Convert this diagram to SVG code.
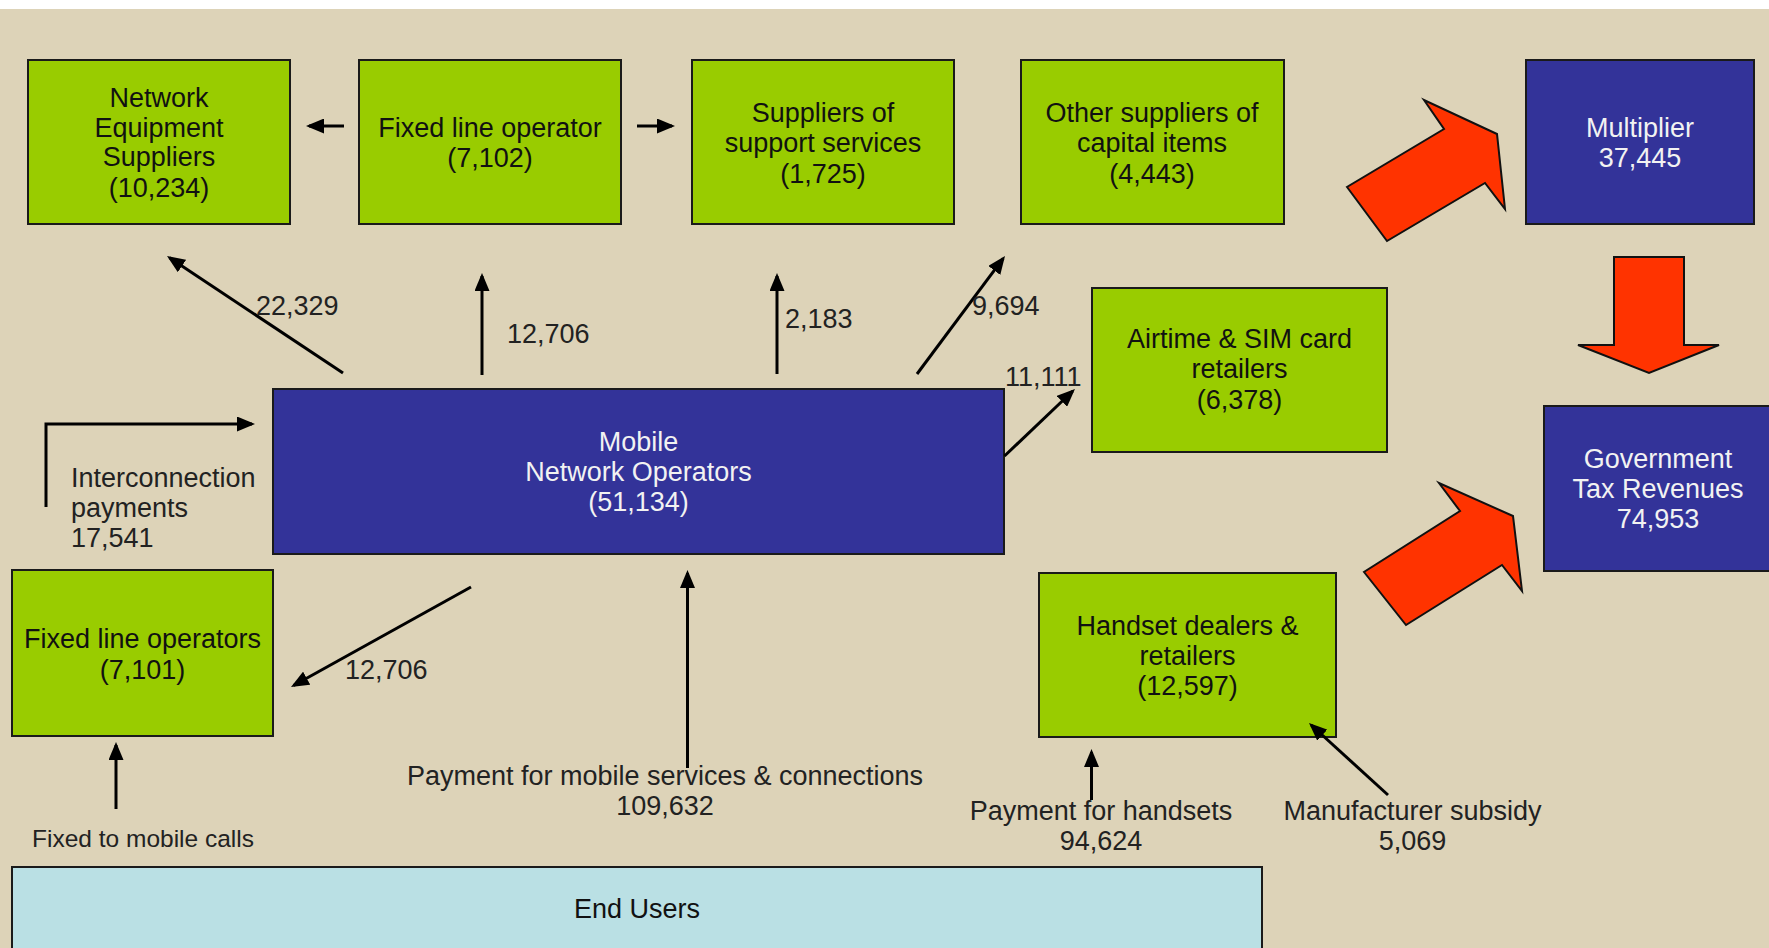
<svg xmlns="http://www.w3.org/2000/svg" width="1769" height="948" viewBox="0 0 1769 948">
<defs>
<style>
.bg{fill:#DDD3B8}
.g{fill:#99CC00;stroke:#1a1a1a;stroke-width:2}
.b{fill:#333399;stroke:#1a1a1a;stroke-width:2}
.u{fill:#BAE0E4;stroke:#1a1a1a;stroke-width:2}
.r{fill:#FF3300;stroke:#111;stroke-width:2;stroke-linejoin:miter}
text{font-family:"Liberation Sans",Arial,sans-serif;font-size:27px}
.t{fill:#111;text-anchor:middle}
.w{fill:#F2F2F2;text-anchor:middle}
.l{fill:#222}
.m{fill:#222;text-anchor:middle}
.s{font-size:24.5px}
.c{stroke:#000;stroke-width:3;fill:none;marker-end:url(#ah)}
</style>
<marker id="ah" viewBox="0 0 12 10" refX="10" refY="5" markerWidth="6" markerHeight="5" orient="auto" markerUnits="strokeWidth"><path d="M0,0 L12,5 L0,10 z" fill="#000"/></marker>
</defs>
<rect x="0" y="0" width="1769" height="948" fill="#FFFFFF"/>
<rect class="bg" x="0" y="9" width="1769" height="939"/>

<g id="network-equipment-suppliers">
<rect class="g" x="28" y="60" width="262" height="164"/>
<text class="t" x="159" y="107">Network</text>
<text class="t" x="159" y="137">Equipment</text>
<text class="t" x="159" y="166">Suppliers</text>
<text class="t" x="159" y="197">(10,234)</text>
</g>
<g id="fixed-line-operator">
<rect class="g" x="359" y="60" width="262" height="164"/>
<text class="t" x="490" y="137">Fixed line operator</text>
<text class="t" x="490" y="167">(7,102)</text>
</g>
<g id="support-services">
<rect class="g" x="692" y="60" width="262" height="164"/>
<text class="t" x="823" y="122">Suppliers of</text>
<text class="t" x="823" y="152">support services</text>
<text class="t" x="823" y="183">(1,725)</text>
</g>
<g id="capital-items">
<rect class="g" x="1021" y="60" width="263" height="164"/>
<text class="t" x="1152" y="122">Other suppliers of</text>
<text class="t" x="1152" y="152">capital items</text>
<text class="t" x="1152" y="183">(4,443)</text>
</g>
<g id="multiplier">
<rect class="b" x="1526" y="60" width="228" height="164"/>
<text class="w" x="1640" y="137">Multiplier</text>
<text class="w" x="1640" y="167">37,445</text>
</g>
<g id="airtime-retailers">
<rect class="g" x="1092" y="288" width="295" height="164"/>
<text class="t" x="1239.5" y="348">Airtime &amp; SIM card</text>
<text class="t" x="1239.5" y="378">retailers</text>
<text class="t" x="1239.5" y="409">(6,378)</text>
</g>
<g id="mobile-network-operators">
<rect class="b" x="273" y="389" width="731" height="165"/>
<text class="w" x="638.5" y="451">Mobile</text>
<text class="w" x="638.5" y="481">Network Operators</text>
<text class="w" x="638.5" y="511">(51,134)</text>
</g>
<g id="government">
<rect class="b" x="1544" y="406" width="232" height="165"/>
<text class="w" x="1658" y="468">Government</text>
<text class="w" x="1658" y="498">Tax Revenues</text>
<text class="w" x="1658" y="528">74,953</text>
</g>
<g id="fixed-line-operators">
<rect class="g" x="12" y="570" width="261" height="166"/>
<text class="t" x="142.5" y="648">Fixed line operators</text>
<text class="t" x="142.5" y="679">(7,101)</text>
</g>
<g id="handset-dealers">
<rect class="g" x="1039" y="573" width="297" height="164"/>
<text class="t" x="1187.5" y="635">Handset dealers &amp;</text>
<text class="t" x="1187.5" y="665">retailers</text>
<text class="t" x="1187.5" y="695">(12,597)</text>
</g>
<g id="end-users">
<rect class="u" x="12" y="867" width="1250" height="95"/>
<text class="t" x="637" y="918">End Users</text>
</g>

<g id="connectors">
<line class="c" x1="344" y1="126" x2="309" y2="126"/>
<line class="c" x1="637" y1="126" x2="672" y2="126"/>
<line class="c" x1="343" y1="373" x2="169.5" y2="257.7"/>
<line class="c" x1="482" y1="375" x2="482" y2="276"/>
<line class="c" x1="777" y1="374" x2="777" y2="276"/>
<line class="c" x1="917" y1="374" x2="1003.2" y2="258.4"/>
<line class="c" x1="1004.5" y1="456" x2="1072.8" y2="391"/>
<polyline class="c" points="46,507 46,424 252,424"/>
<line class="c" x1="471" y1="587" x2="293.6" y2="685.5"/>
<line class="c" x1="687.5" y1="768" x2="687.5" y2="573"/>
<line class="c" x1="116" y1="809" x2="116" y2="745"/>
<line class="c" x1="1091.5" y1="800" x2="1091.5" y2="752"/>
<line class="c" x1="1388" y1="795" x2="1311.2" y2="725"/>
<polygon class="r" points="1347,187 1387,241 1485,183 1505,209 1497,134 1424,100 1444,129"/>
<polygon class="r" points="1614,257 1684,257 1684,345 1719,345 1649,373 1578,345 1614,345"/>
<polygon class="r" points="1364,572 1406,625 1502,565 1522,591 1513,516 1439,483 1460,511"/>
</g>

<g id="labels">
<text class="l" x="256" y="315">22,329</text>
<text class="l" x="507" y="343">12,706</text>
<text class="l" x="785" y="328">2,183</text>
<text class="l" x="972" y="315">9,694</text>
<text class="l" x="1005" y="386">11,111</text>
<text class="l" x="71" y="487">Interconnection</text>
<text class="l" x="71" y="517">payments</text>
<text class="l" x="71" y="547">17,541</text>
<text class="l" x="345" y="679">12,706</text>
<text class="m" x="665" y="785">Payment for mobile services &amp; connections</text>
<text class="m" x="665" y="815">109,632</text>
<text class="m s" x="143" y="847">Fixed to mobile calls</text>
<text class="m" x="1101" y="820">Payment for handsets</text>
<text class="m" x="1101" y="850">94,624</text>
<text class="m" x="1412.5" y="820">Manufacturer subsidy</text>
<text class="m" x="1412.5" y="850">5,069</text>
</g>
</svg>
